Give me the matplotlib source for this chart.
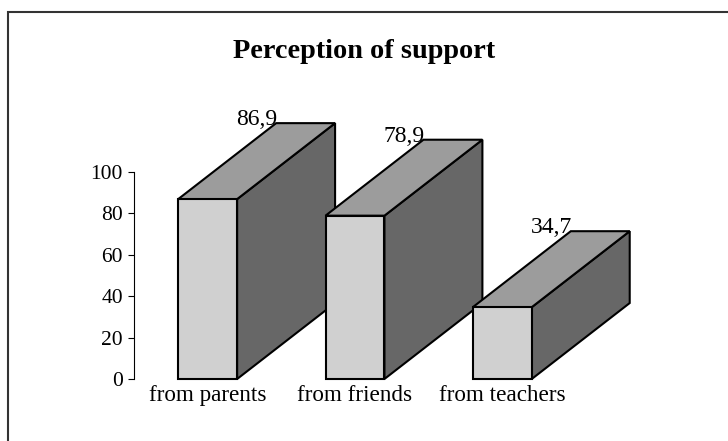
import matplotlib.pyplot as plt
import matplotlib.patches as mpatches

categories = ['from parents', 'from friends', 'from teachers']
values = [86.9, 78.9, 34.7]
value_labels = ['86,9', '78,9', '34,7']
yticks = [0, 20, 40, 60, 80, 100]

# look of the fake 3d boxes (hand-tuned against the excel original)
bar_w = 0.40
depth_x = 0.665
depth_y = 36.7
front_c = '#d0d0d0'
top_c = '#9c9c9c'
side_c = '#676767'

plt.rcParams['font.family'] = ['Liberation Serif', 'DejaVu Serif']

fig = plt.figure(figsize=(7.28, 4.41), dpi=100)
W, H = 728, 441
ax = fig.add_axes([134 / W, 62 / H, 515.6 / W, 140 * 2.07 / H])
ax.set_xlim(-0.5, 3.0)
ax.set_ylim(0, 140)

for i, v in enumerate(values):
    x0 = i - bar_w / 2
    x1 = i + bar_w / 2
    side = mpatches.Polygon(
        [(x1, 0), (x1 + depth_x, depth_y), (x1 + depth_x, v + depth_y), (x1, v)],
        closed=True, fc=side_c, ec='black', lw=1.5, joinstyle='miter', clip_on=False)
    top = mpatches.Polygon(
        [(x0, v), (x1, v), (x1 + depth_x, v + depth_y), (x0 + depth_x, v + depth_y)],
        closed=True, fc=top_c, ec='black', lw=1.5, joinstyle='miter', clip_on=False)
    front = mpatches.Rectangle((x0, 0), bar_w, v, fc=front_c, ec='black', lw=1.5,
                               joinstyle='miter', clip_on=False)
    ax.add_patch(side)
    ax.add_patch(top)
    ax.add_patch(front)
    ax.text(i + depth_x / 2, v + depth_y - 1.0, value_labels[i], ha='center', va='baseline',
            fontsize=17)

ax.set_xticks(range(len(categories)))
ax.set_xticklabels(categories, fontsize=16.7)
ax.tick_params(axis='x', length=0, pad=4.5)
ax.set_yticks(yticks)
ax.set_yticklabels([str(t) for t in yticks], fontsize=15.5)
ax.tick_params(axis='y', direction='out', length=4.3, width=0.8, pad=3.6)
for s in ['top', 'right', 'bottom']:
    ax.spines[s].set_visible(False)
ax.spines['left'].set_bounds(0, 100)
ax.spines['left'].set_linewidth(0.8)

fig.text(0.5, 1 - 58 / H, 'Perception of support', ha='center', va='baseline',
         fontsize=20.3, fontweight='bold')

# outer chart frame, runs off the right and bottom of the image
fig.add_artist(mpatches.Rectangle((8 / W, -0.1), 1.2, 1 - 12 / H + 0.1,
                                  transform=fig.transFigure, fill=False,
                                  ec='#333333', lw=1.5))

fig.savefig('out.png', dpi=100)
